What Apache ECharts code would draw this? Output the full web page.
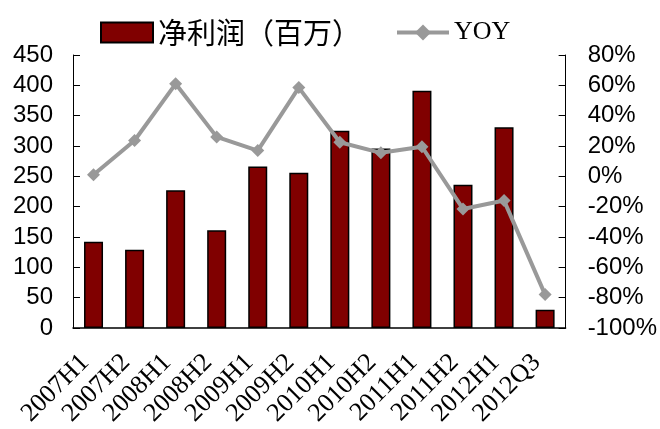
<!DOCTYPE html>
<html>
<head>
<meta charset="utf-8">
<script src="https://cdn.jsdelivr.net/npm/echarts@6/dist/echarts.min.js"></script>
<style>
html,body{margin:0;padding:0;background:#fff;}
#c{width:660px;height:429px;}
</style>
</head>
<body>
<div id="c"></div>
<script>
const categories = ['2007H1','2007H2','2008H1','2008H2','2009H1','2009H2','2010H1','2010H2','2011H1','2011H2','2012H1','2012Q3'];
const netProfit = [142, 129, 227, 161, 266, 256, 325, 296, 391, 236, 331, 30];
const yoy = [1, 23.6, 61, 26, 17, 58.5, 22.5, 15.5, 19.5, -21.5, -16, -78];
const leftTicks = [0, 450, 50];
const rightTicks = [-100, 80, 20];

const chart = echarts.init(document.getElementById('c'));
chart.setOption({
  animation: false,
  backgroundColor: '#fff',
  legend: {
    left: 95,
    top: 13,
    itemWidth: 52,
    itemHeight: 20,
    itemGap: 34,
    textStyle: { fontSize: 29, color: '#000' },
    data: [
      { name: '净利润（百万）', icon: 'rect', textStyle: { fontFamily: 'Noto Sans CJK SC' } },
      { name: 'YOY', lineStyle: { width: 4, color: '#999999' }, textStyle: { fontFamily: 'Liberation Serif', fontSize: 26 } }
    ]
  },
  grid: { left: 73, right: 94, top: 55, bottom: 99, containLabel: false },
  xAxis: {
    type: 'category',
    data: categories,
    boundaryGap: true,
    axisLine: { lineStyle: { color: '#000', width: 1.5 } },
    axisTick: { inside: true, length: 6, alignWithLabel: false, lineStyle: { color: '#000' } },
    axisLabel: {
      interval: 0, rotate: 45, margin: 22, padding: [0, 12, 0, 0],
      fontFamily: 'Liberation Serif', fontSize: 26, color: '#000'
    },
    splitLine: { show: false }
  },
  yAxis: [
    {
      type: 'value', min: leftTicks[0], max: leftTicks[1], interval: leftTicks[2],
      axisLine: { show: true, lineStyle: { color: '#000', width: 1 } },
      axisTick: { show: true, inside: true, length: 7, lineStyle: { color: '#000' } },
      axisLabel: { fontFamily: 'Liberation Sans', fontSize: 24, color: '#000', margin: 20 },
      splitLine: { show: false }
    },
    {
      type: 'value', min: rightTicks[0], max: rightTicks[1], interval: rightTicks[2],
      position: 'right',
      axisLine: { show: true, lineStyle: { color: '#000', width: 1 } },
      axisTick: { show: true, inside: true, length: 7, lineStyle: { color: '#000' } },
      axisLabel: { fontFamily: 'Liberation Sans', fontSize: 24, color: '#000', margin: 22, formatter: '{value}%' },
      splitLine: { show: false }
    }
  ],
  series: [
    {
      name: '净利润（百万）',
      type: 'bar',
      data: netProfit,
      barWidth: 19,
      itemStyle: { color: '#800000', borderColor: '#000', borderWidth: 1.5 }
    },
    {
      name: 'YOY',
      type: 'line',
      yAxisIndex: 1,
      data: yoy,
      symbol: 'diamond',
      symbolSize: 13,
      lineStyle: { color: '#999999', width: 4 },
      itemStyle: { color: '#999999' }
    }
  ]
});
</script>
</body>
</html>
